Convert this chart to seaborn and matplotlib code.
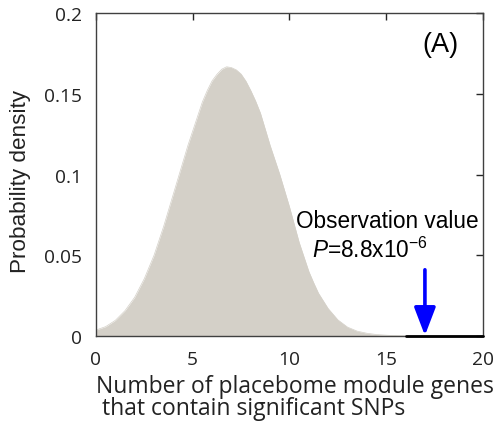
import matplotlib
matplotlib.use("Agg")
import matplotlib.pyplot as plt
import seaborn as sns
import pandas as pd
from matplotlib.ticker import FuncFormatter

# Density curve
x_vals = [0, 0.5, 1, 1.5, 2, 2.5, 3, 3.25, 3.5, 3.75, 4, 4.25, 4.5, 4.75, 5,
          5.25, 5.5, 5.75, 6, 6.25, 6.5, 6.75, 7, 7.25, 7.5, 7.75, 8, 8.25,
          8.5, 8.75, 9, 9.25, 9.5, 9.75, 10, 10.25, 10.5, 10.75, 11, 11.25,
          11.5, 12, 12.5, 13, 13.5, 14, 14.5, 15, 15.5, 16]
density = [0.0037, 0.0058, 0.0097, 0.0157, 0.0240, 0.0356, 0.0500, 0.0590,
           0.0680, 0.0780, 0.0880, 0.0980, 0.1080, 0.1180, 0.1270, 0.1360,
           0.1450, 0.1520, 0.1580, 0.1620, 0.1652, 0.1667, 0.1662, 0.1648,
           0.1622, 0.1578, 0.1520, 0.1455, 0.1380, 0.1280, 0.1180, 0.1090,
           0.1000, 0.0900, 0.0800, 0.0690, 0.0580, 0.0490, 0.0400, 0.0330,
           0.0265, 0.0170, 0.0100, 0.0055, 0.0030, 0.0017, 0.0009, 0.0005,
           0.0002, 0.0001]
obs_value = 17
obs_line_x = [16, 20]
obs_line_y = [0, 0]
x_ticks = [0, 5, 10, 15, 20]
y_ticks = [0, 0.05, 0.1, 0.15, 0.2]

df = pd.DataFrame({"x": x_vals, "y": density})

sns.set_style("white")
plt.rcParams['font.family'] = ['Open Sans', 'DejaVu Sans']
plt.rcParams['mathtext.fontset'] = 'custom'
plt.rcParams['mathtext.rm'] = 'Liberation Sans'
plt.rcParams['mathtext.it'] = 'Liberation Sans:italic'

fig = plt.figure(figsize=(5.01, 4.35), dpi=100)
ax = fig.add_axes([0.1916, 0.2253, 0.7724, 0.7425])

fill_col = "#D4D0C8"
ax.fill_between(df["x"], df["y"], 0, color=fill_col, linewidth=0, zorder=1)
sns.lineplot(data=df, x="x", y="y", ax=ax, color=fill_col, linewidth=0.5, zorder=2)
ax.plot(obs_line_x, obs_line_y, color="black", linewidth=2, zorder=3, clip_on=False)

ax.annotate("", xy=(obs_value, 0.0003), xytext=(obs_value, 0.041),
            arrowprops=dict(arrowstyle="-|>,head_width=0.65,head_length=1.7",
                            mutation_scale=10,
                            color="#0000FF", lw=2.6, shrinkA=0, shrinkB=0),
            zorder=4)

ax.text(10.34, 0.0714, "Observation value", fontsize=16.3,
        family="Liberation Sans", va="center", ha="left", color="black")
ax.text(11.16, 0.0535, r"$\it{P}$=8.8x10$^{\mathrm{-6}}$", fontsize=16.3,
        family="Liberation Sans", va="center", ha="left", color="black")
ax.text(17.8, 0.181, "(A)", fontsize=19.5, family="Liberation Sans",
        va="center", ha="center", color="black")

ax.set_xlim(0, 20)
ax.set_ylim(0, 0.2)
ax.set_xticks(x_ticks)
ax.set_yticks(y_ticks)
ax.yaxis.set_major_formatter(FuncFormatter(lambda v, p: "%g" % v))
ax.tick_params(direction="in", length=5, width=1, top=True, right=True,
               labelsize=13.8, colors="#262626", labelcolor="#222222")
ax.tick_params(axis="x", pad=10)
ax.tick_params(axis="y", pad=10)
for s in ax.spines.values():
    s.set_color("#404040")
    s.set_linewidth(1)

ax.set_xlabel("Number of placebome module genes\n that contain significant SNPs",
              fontsize=16.5, color="#222222", multialignment="left",
              linespacing=0.9)
ax.xaxis.label.set_va("center")
ax.xaxis.set_label_coords(0.514, -0.189)
ax.set_ylabel("Probability density", fontsize=16.2, color="#222222",
              family="Liberation Sans")
ax.yaxis.label.set_va("center")
ax.yaxis.set_label_coords(-0.196, 0.48)

fig.savefig("out.png", dpi=100)
